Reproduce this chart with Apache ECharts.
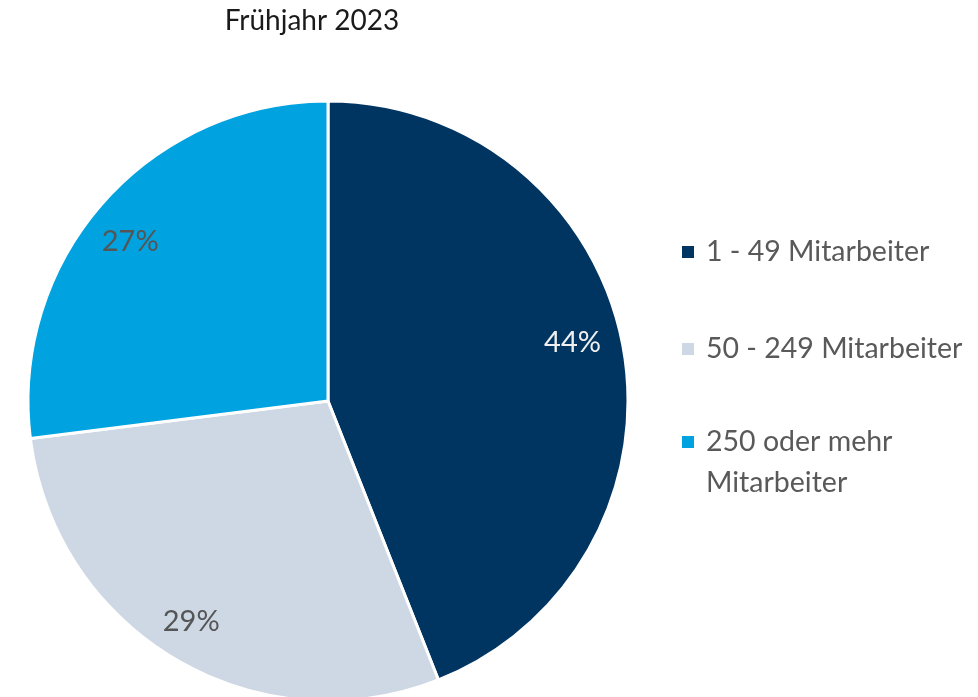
<!DOCTYPE html>
<html lang="de">
  <head>
    <meta charset="UTF-8" />
    <title>Frühjahr 2023</title>
    <script src="https://cdn.jsdelivr.net/npm/echarts@6/dist/echarts.min.js"></script>
    <style>
      html, body { margin: 0; padding: 0; background: #fff; }
    </style>
  </head>
  <body>
    <div id="main" style="width: 978px; height: 697px"></div>
    <script type="text/javascript">
      const categories = ["1 - 49 Mitarbeiter", "50 - 249 Mitarbeiter", "250 oder mehr Mitarbeiter"];
      const values = [44, 29, 27];
      const colors = ["#003562", "#cdd8e4", "#00a3e0"];
      const labelColors = ["#f0f0f0", "#555555", "#555555"];
      // first legend line for each item, the long one wraps onto a second line
      const legendLabels = ["1 - 49 Mitarbeiter", "50 - 249 Mitarbeiter", "250 oder mehr"];
      const legendWrap = "Mitarbeiter";

      let myChart = echarts.init(document.getElementById("main"));

      const font = "Lato";
      const legendTops = [226, 323, 416];
      // nudge labels to where they sit in the original
      const labelShift = [[-4, -11], [-8, 3], [-8, 8]];

      let pieData = categories.map((c, i) => ({
        name: c,
        value: values[i],
        itemStyle: { color: colors[i] },
      }));

      let labelData = categories.map((c, i) => ({
        name: c,
        value: values[i],
        label: { color: labelColors[i], offset: labelShift[i] },
      }));

      let legendText = {
        fontFamily: font,
        fontSize: 28.5,
        color: "#595959",
        lineHeight: 42,
        padding: [0, 0, 0, 6],
      };

      let options = {
        animation: false,
        color: colors,
        title: [
          {
            text: "Frühjahr 2023",
            left: 307,
            top: 2,
            textAlign: "center",
            textStyle: { fontFamily: font, fontSize: 28, fontWeight: "normal", color: "#1a1a1a" },
          },
          {
            text: legendWrap,
            left: 701,
            top: 457,
            textStyle: { fontFamily: font, fontSize: 28.5, fontWeight: "normal", color: "#595959", lineHeight: 42 },
          },
        ],
        legend: categories.map((c, i) => ({
          data: [c],
          orient: "vertical",
          left: 675,
          top: legendTops[i],
          icon: "rect",
          itemWidth: 14,
          itemHeight: 14,
          selectedMode: false,
          formatter: () => legendLabels[i],
          textStyle: legendText,
        })),
        series: [
          {
            type: "pie",
            center: [328, 401],
            radius: 300,
            startAngle: 90,
            clockwise: true,
            label: { show: false },
            labelLine: { show: false },
            itemStyle: { borderColor: "#ffffff", borderWidth: 3 },
            emphasis: { disabled: true },
            data: pieData,
          },
          {
            type: "pie",
            center: [328, 401],
            radius: [0, 500],
            startAngle: 90,
            clockwise: true,
            silent: true,
            legendHoverLink: false,
            itemStyle: { color: "rgba(0,0,0,0)" },
            label: {
              show: true,
              position: "inside",
              formatter: "{c}%",
              fontFamily: font,
              fontSize: 29,
              textBorderWidth: 0,
            },
            labelLine: { show: false },
            emphasis: { disabled: true },
            data: labelData,
          },
        ],
      };
      myChart.setOption(options);
    </script>
  </body>
</html>
